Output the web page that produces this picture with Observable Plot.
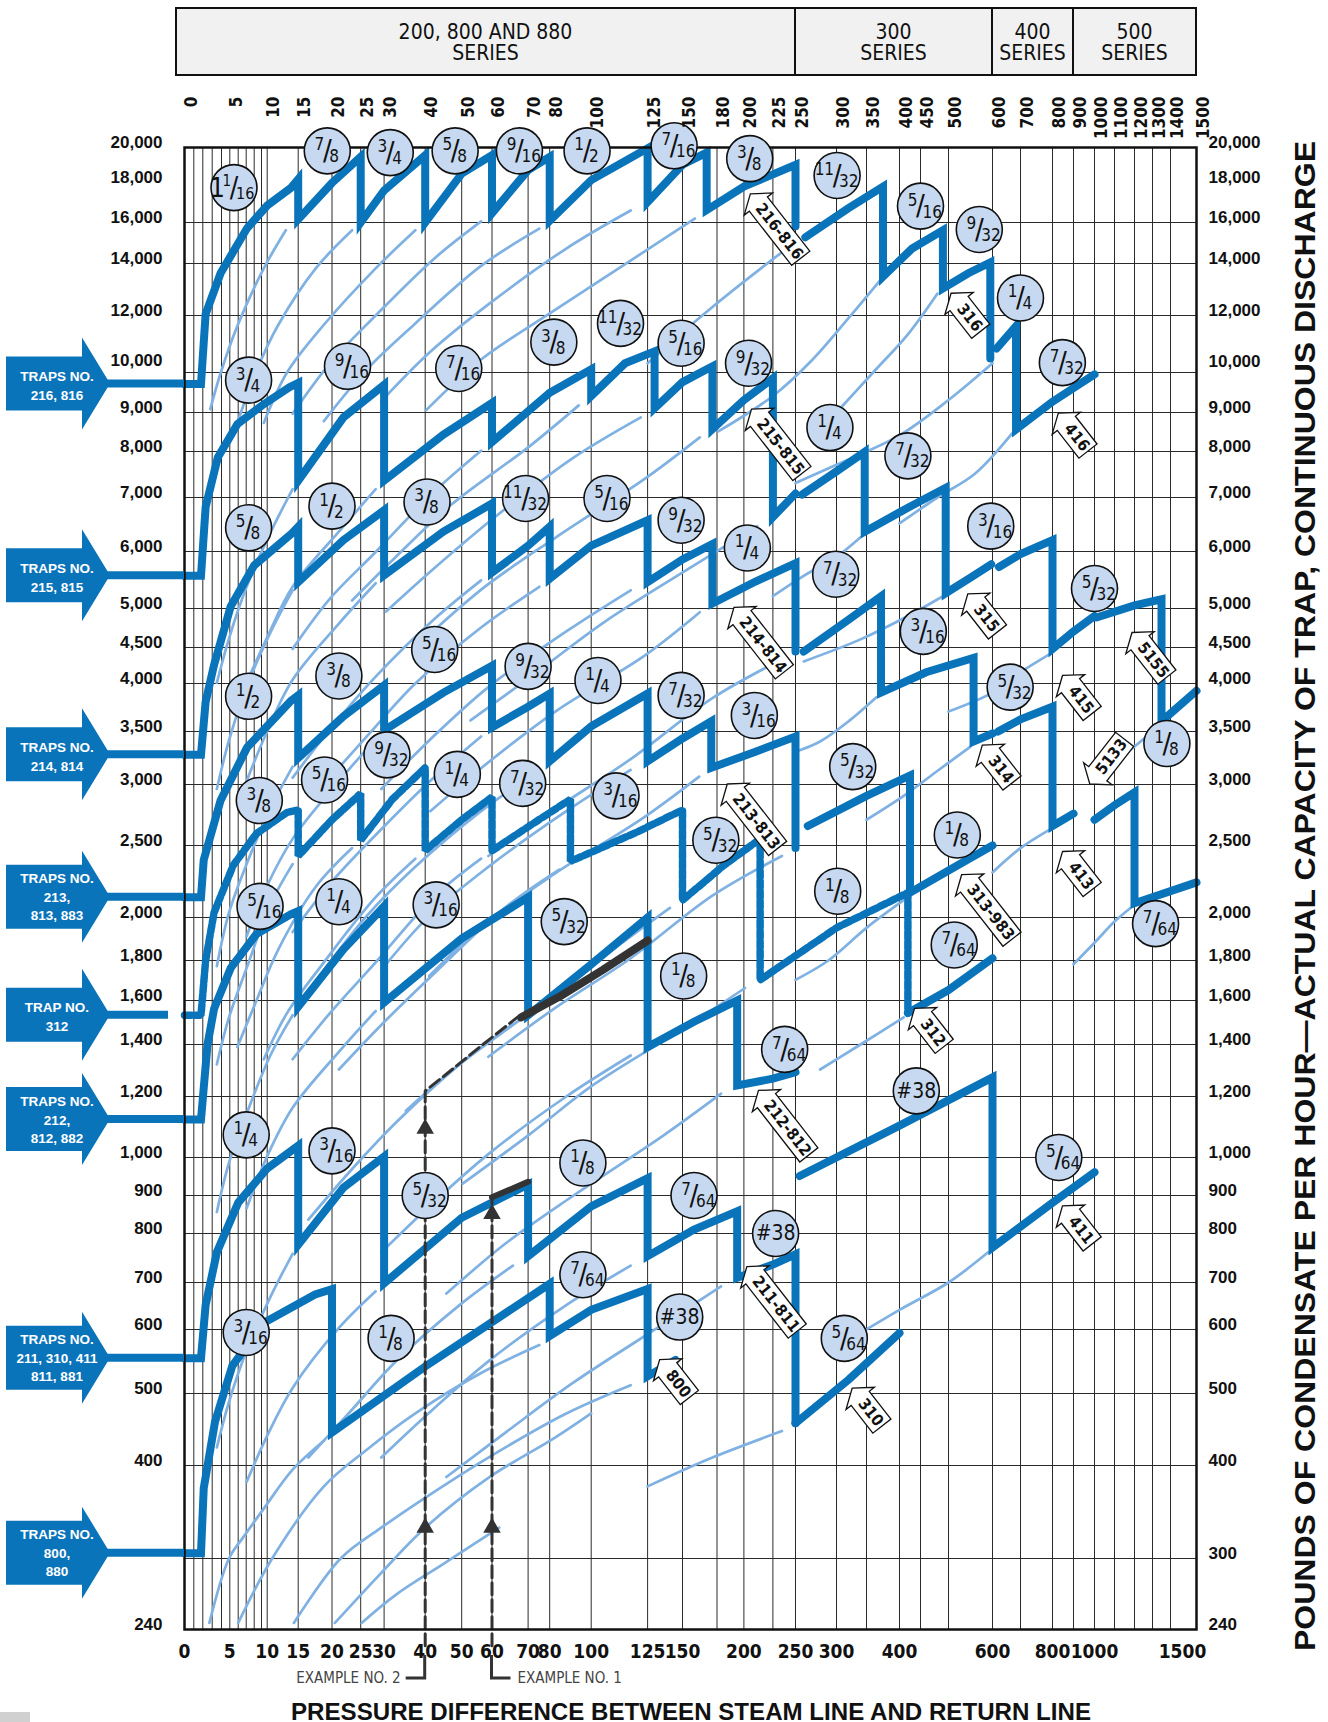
<!DOCTYPE html>
<html>
<head>
<meta charset="utf-8">
<script src="https://cdn.jsdelivr.net/npm/d3@7"></script>
<script src="https://cdn.jsdelivr.net/npm/@observablehq/plot@0.6"></script>
<style>
html,body{margin:0;padding:0;background:#fff;overflow:hidden}
#chart svg{display:block}
</style>
</head>
<body>
<div id="chart"></div>
<script>
// ---------- tick values ----------
const xGrid = [0,1,2,3,4,5,6,7,8,9,10,15,20,25,30,40,50,60,70,80,100,125,150,180,200,225,250,300,350,400,450,500,600,700,800,900,1000,1100,1200,1300,1400,1500];
const xTopLabels = [0,5,10,15,20,25,30,40,50,60,70,80,100,125,150,180,200,225,250,300,350,400,450,500,600,700,800,900,1000,1100,1200,1300,1400,1500];
const xBottomLabels = [0,5,10,15,20,25,30,40,50,60,70,80,100,125,150,200,250,300,400,600,800,1000];
const xBottomLast = [1500];
const yGrid = [240,300,400,500,600,700,800,900,1000,1200,1400,1600,1800,2000,2500,3000,3500,4000,4500,5000,6000,7000,8000,9000,10000,12000,14000,16000,20000];
const yLabelsLeft = [240,400,500,600,700,800,900,1000,1200,1400,1600,1800,2000,2500,3000,3500,4000,4500,5000,6000,7000,8000,9000,12000,14000,16000,18000,20000];
const yLabelsRight = [240,300,400,500,600,700,800,900,1000,1200,1400,1600,1800,2000,2500,3000,3500,4000,4500,5000,6000,7000,8000,9000,12000,14000,16000,18000,20000];
const yLabelRaised = [10000];

// ---------- thick capacity series: [psi, lb/hr] ----------
const s216 = [[0,9700],[1.8,9700],[2.3,12050],[3.9,13600],[7.1,15700],[10,16830],[13.8,17730],[15,18200],[15,16150],[20,18000],[25,19450],[25,16000],[30,17600],[40,19550],[40,16000],[50,18500],[60,19550],[60,16450],[70,18700],[80,19450],[80,16080],[100,18150],[125,19950],[125,17000],[150,19000],[171,19700],[171,16600],[200,17800],[250,19000],[250,15800]];
const s316 = [[262,15250],[320,16700],[375,17800],[375,13470],[430,14700],[490,15600],[490,13000],[545,13600],[595,14050],[595,10460]];
const s416 = [[615,10800],[684,11600],[684,8550],[800,9260],[1000,9950]];
const s215 = [[0,5550],[1.8,5550],[2.3,6810],[3.6,7860],[5.9,8690],[9.4,9200],[13.6,9620],[15,9730],[15,7350],[22,8870],[30,9680],[30,7350],[45,8420],[60,9230],[60,8230],[80,9480],[100,10100],[100,9400],[115,10300],[130,10700],[130,9100],[150,9750],[176,10200],[176,8560],[200,9300],[225,9850],[225,6620],[250,7080]];
const s315 = [[258,7060],[300,7550],[347,7990],[347,6350],[420,6800],[495,7200],[495,5250],[550,5520],[597,5760]];
const s415 = [[623,5710],[700,5950],[800,6200],[800,4480],[900,4700],[1000,4900]];
const s5155 = [[1010,4880],[1200,5050],[1350,5150],[1350,3600],[1500,3920]];
const s214 = [[0,3270],[1.8,3270],[2.3,3800],[3.2,4250],[5.1,5030],[8,5740],[13.8,6300],[15,6440],[15,5440],[22,6200],[30,6750],[30,5560],[45,6350],[60,6880],[60,5610],[70,6100],[80,6440],[80,5500],[100,6100],[125,6560],[125,5440],[150,5850],[176,6130],[176,5080],[210,5450],[250,5780],[250,4440]];
const s314 = [[260,4440],[320,4850],[372,5200],[372,3900],[460,4150],[557,4350],[557,3400],[600,3480]];
const s414 = [[620,3500],[700,3620],[800,3750],[800,2650],[900,2750]];
const s5133 = [[1000,2700],[1100,2820],[1200,2930],[1200,2090],[1500,2230]];
const s213 = [[0,2130],[1.8,2130],[2.1,2390],[3.9,2860],[7.1,3340],[13.8,3810],[15,3870],[15,3240],[22,3650],[30,3980],[30,3510],[45,3900],[60,4240],[60,3540],[70,3750],[80,3890],[80,3210],[100,3550],[125,3890],[125,3210],[150,3430],[175,3600],[175,3150],[210,3300],[250,3450],[250,2480]];
const s313 = [[265,2650],[350,2900],[425,3080],[425,2160],[520,2350],[600,2500]];
const s312 = [[0,1530],[1.8,1530],[2.3,1800],[3.2,2030],[5.4,2350],[8.3,2590],[13.2,2760],[15,2780],[15,2420],[20,2700],[25,2920],[25,2540],[32,2870],[40,3150],[40,2460],[50,2700],[60,2890],[60,2460],[75,2700],[90,2870],[90,2380],[120,2600],[150,2780],[150,2110],[185,2350],[214,2550],[214,1700],[300,1950],[420,2160],[420,1540]];
const s312b = [[420,1540],[500,1650],[600,1810]];
const s212 = [[0,1120],[1.8,1120],[2.5,1400],[3.2,1560],[5.1,1760],[8.3,1920],[13.8,2020],[15,2040],[15,1570],[22,1850],[30,2070],[30,1590],[50,1900],[70,2130],[70,1530],[100,1780],[125,2000],[125,1390],[160,1500],[195,1600],[195,1240],[225,1265],[250,1290]];
const s411 = [[255,950],[400,1100],[600,1270],[600,770],[800,880],[1000,960]];
const s211 = [[0,553],[1.8,553],[2.3,650],[3.5,760],[6,880],[10,970],[15,1036],[15,776],[22,920],[30,1003],[30,698],[50,840],[70,928],[70,752],[100,870],[125,944],[125,752],[160,810],[195,857],[195,709],[225,735],[250,756],[250,456]];
const s310 = [[250,456],[320,520],[400,594]];
const s800 = [[0,305],[1.8,305],[2.1,373],[3.3,458],[5.3,541],[9.5,614],[17.5,673],[20,685],[20,443],[40,540],[80,697],[80,589],[100,640],[125,685],[125,525],[145,550]];
const solidSeries = [s216,s316,s416,s215,s315,s415,s5155,s214,s314,s414,s5133,s213,s313,s312b,s212,s411,s211,s310,s800];
const dottedSeries = [s312];

// ---------- thin orifice curves (continuations below each step) ----------
const thin216 = [
 [[13,15600],[9.4,13800],[5.9,11600],[3.9,9980],[2.8,9080]],
 [[23.5,15600],[17.6,13800],[11.8,11650],[8.2,10000],[5.9,8720]],
 [[37.6,15600],[28.2,13800],[18.8,11650],[13.2,10000],[9.4,8720]],
 [[56.4,16050],[42.3,14200],[28.2,12000],[19.7,10300],[14.1,8970]],
 [[75.2,15680],[56.4,13900],[37.6,11700],[26.3,10100],[18.8,8770]],
 [[117.5,16580],[88,14700],[58.8,12400],[41.1,10650],[29.4,9270]],
 [[160.7,16190],[120.5,14340],[80.4,12090],[56.2,10410],[40.2,9050]],
 [[250,15000],[225,14200],[170,12100],[125,10300]],
 [[370,13300],[320,11900],[270,10400],[225,9400],[181,8500]]
];
const thin215 = [
 [[14.1,7170],[10.6,6350],[7.05,5360],[4.9,4610],[3.5,4010]],
 [[28.2,7170],[21.2,6350],[14.1,5360],[9.9,4610],[7.05,4010]],
 [[56.4,8020],[42.3,7110],[28.2,5990],[19.7,5160],[14.1,4480]],
 [[94,9170],[70.5,8120],[47,6850],[32.9,5900],[23.5,5130]],
 [[122,8870],[91.5,7860],[61,6630],[42.7,5700],[30.5,4960]],
 [[165,8350],[124,7400],[82.7,6240],[57.9,5370],[41.4,4670]],
 [[211.5,6450],[158.6,5720],[105.8,4820],[74,4150],[52.9,3610]]
];
const thin214 = [
 [[14.1,5300],[10.6,4700],[7.05,3960],[4.9,3410],[3.5,2960]],
 [[28.2,5420],[21.2,4800],[14.1,4050],[9.9,3490],[7.05,3030]],
 [[56.4,5470],[42.3,4850],[28.2,4090],[19.7,3520],[14.1,3060]],
 [[75.2,5360],[56.4,4750],[37.6,4000],[26.3,3450],[18.8,3000]],
 [[117.5,5300],[88,4700],[58.8,3960],[41.1,3410],[29.4,2960]],
 [[165,4950],[124,4390],[82.7,3700],[57.9,3180],[41.4,2770]],
 [[235,4330],[176,3840],[117.5,3230],[82,2780],[58.8,2420]]
];
const thin213 = [
 [[14.1,3160],[10.6,2800],[7.05,2360],[4.9,2030],[3.5,1770]],
 [[28.2,3420],[21.2,3030],[14.1,2550],[9.9,2200],[7.05,1910]],
 [[56.4,3450],[42.3,3060],[28.2,2580],[19.7,2220],[14.1,1930]],
 [[75.2,3130],[56.4,2770],[37.6,2340],[26.3,2010],[18.8,1750]],
 [[117.5,3130],[88,2770],[58.8,2340],[41.1,2010],[29.4,1750]],
 [[164.5,3070],[123.4,2720],[82.3,2290],[57.6,1970],[41.1,1720]],
 [[235,2420],[176,2140],[117.5,1810],[82,1560],[58.8,1350]]
];
const thin312 = [
 [[14.1,2360],[10.6,2090],[7.05,1760],[4.9,1520],[3.5,1320]],
 [[23.5,2480],[17.6,2200],[11.8,1850],[8.2,1590],[5.9,1390]],
 [[37.6,2400],[28.2,2130],[18.8,1790],[13.2,1540],[9.4,1340]],
 [[56.4,2400],[42.3,2130],[28.2,1790],[19.7,1540],[14.1,1340]],
 [[84.6,2320],[63.5,2060],[42.3,1730],[29.6,1490],[21.2,1300]],
 [[141,2060],[105.8,1820],[70.5,1540],[49.4,1320],[35.3,1150]],
 [[201,1660],[151,1470],[100.6,1240],[70.4,1070],[50.3,930]]
];
const thin212 = [
 [[14.1,1530],[10.6,1360],[7.05,1140],[4.9,985],[3.5,855]],
 [[28.2,1550],[21.2,1370],[14.1,1160],[9.9,1000],[7.05,865]],
 [[65.8,1490],[49.4,1320],[32.9,1110],[23,960],[16.5,835]],
 [[117.5,1355],[88,1200],[58.8,1010],[41.1,870],[29.4,760]],
 [[183,1210],[137,1070],[91.5,900],[64,780],[45.8,675]]
];
const thin211 = [
 [[14.1,757],[10.6,670],[7.05,565],[4.9,487],[3.5,423]],
 [[28.2,680],[21.2,603],[14.1,508],[9.9,437],[7.05,380]],
 [[65.8,733],[49.4,650],[32.9,548],[23,471],[16.5,410]],
 [[117.5,733],[88,650],[58.8,548],[41.1,471],[29.4,410]],
 [[183,691],[137,612],[91.5,516],[64,444],[45.8,386]],
 [[235,445],[176,410],[125,375]]
];
const thin800 = [
 [[18.8,432],[14.1,395],[9.4,350],[6.6,320],[4.9,300],[2.7,245]],
 [[75.2,574],[56.4,530],[37.6,470],[26.3,420],[18.8,375],[10.8,300],[6,245]],
 [[117.5,512],[88,470],[58.8,410],[41.1,365],[29.4,330],[21.5,300],[14.3,245]],
 [[100,470],[82,435],[58.8,385],[40,330],[29,285],[20.5,245]],
 [[62,330],[45,295],[33,268],[25.2,245]]
];
// thin curves in the 300 / 400 / 500 series columns
const thinHigh = [
 [[480,12800],[420,11300],[360,10000],[300,9000]],
 [[600,10300],[500,9300],[400,8400],[300,7700],[250,7300]],
 [[670,8450],[560,7500],[480,7000],[400,6500]],
 [[340,6250],[300,5900],[260,5550],[225,5200]],
 [[490,5200],[420,4900],[340,4600],[260,4300]],
 [[790,4400],[700,4150],[600,3900],[500,3700]],
 [[365,3850],[320,3600],[280,3400],[250,3300]],
 [[550,3350],[480,3120],[410,2900],[350,2700]],
 [[790,2620],[700,2480],[600,2300]],
 [[415,2120],[350,1950],[290,1800],[250,1700]],
 [[410,1520],[340,1400],[280,1300]],
 [[590,760],[500,700],[400,640],[300,570]],
 [[1330,3550],[1200,3350],[1100,3200],[1000,3050]],
 [[1180,2060],[1100,1980],[1000,1880],[900,1780]]
];
const thinSeries = [...thin216,...thin215,...thin214,...thin213,...thin312,...thin212,...thin211,...thin800,...thinHigh];

// example paths
const ex2Dash = [[40,228],[40,1220],[45.6,1280],[56,1390],[67,1520]];
const ex1Dash = [[60,228],[60,895]];
const ex2Band = [[68,1520],[85,1620],[105,1750],[125,1890]];
const ex1Band = [[60,895],[70,935]];
const exArrows = [[40,1090],[40,330],[60,850],[60,330]];

// orifice labels
const circles = [
 {x:5.5,y:17750,n:"1",d:"16",w:"1"},{x:19.3,y:19800,n:"7",d:"8"},{x:31.5,y:19700,n:"3",d:"4"},{x:48.2,y:19800,n:"5",d:"8"},
 {x:67.6,y:19800,n:"9",d:"16"},{x:98,y:19800,n:"1",d:"2"},{x:144,y:20100,n:"7",d:"16"},{x:205,y:19350,n:"3",d:"8"},
 {x:301,y:18400,n:"11",d:"32"},{x:450,y:16800,n:"5",d:"16"},{x:570,y:15640,n:"9",d:"32"},{x:700,y:12640,n:"1",d:"4"},{x:847,y:10320,n:"7",d:"32"},
 {x:7.3,y:9800,n:"3",d:"4"},{x:22.7,y:10200,n:"9",d:"16"},{x:49.2,y:10130,n:"7",d:"16"},{x:82,y:11020,n:"3",d:"8"},
 {x:113,y:11700,n:"11",d:"32"},{x:149,y:10980,n:"5",d:"16"},{x:204,y:10300,n:"9",d:"32"},{x:292,y:8600,n:"1",d:"4"},
 {x:420,y:7900,n:"7",d:"32"},{x:596,y:6450,n:"3",d:"16"},{x:1000,y:5330,n:"5",d:"32"},
 {x:7.3,y:6420,n:"5",d:"8"},{x:20,y:6830,n:"1",d:"2"},{x:40.5,y:6910,n:"3",d:"8"},{x:69.3,y:6980,n:"11",d:"32"},
 {x:107,y:6980,n:"5",d:"16"},{x:149,y:6560,n:"9",d:"32"},{x:203,y:6060,n:"1",d:"4"},{x:299,y:5580,n:"7",d:"32"},
 {x:455,y:4700,n:"3",d:"16"},{x:663,y:3960,n:"5",d:"32"},{x:1380,y:3380,n:"1",d:"8"},
 {x:7.3,y:3860,n:"1",d:"2"},{x:21.2,y:4100,n:"3",d:"8"},{x:42.6,y:4470,n:"5",d:"16"},{x:70,y:4230,n:"9",d:"32"},
 {x:103,y:4040,n:"1",d:"4"},{x:149,y:3870,n:"7",d:"32"},{x:209,y:3660,n:"3",d:"16"},{x:327,y:3160,n:"5",d:"32"},
 {x:520,y:2580,n:"1",d:"8"},{x:1317,y:1970,n:"7",d:"64"},
 {x:8.7,y:2860,n:"3",d:"8"},{x:18.9,y:3040,n:"5",d:"16"},{x:30.7,y:3270,n:"9",d:"32"},{x:48.8,y:3090,n:"1",d:"4"},
 {x:68.5,y:3010,n:"7",d:"32"},{x:111,y:2900,n:"3",d:"16"},{x:179,y:2540,n:"5",d:"32"},{x:302,y:2170,n:"1",d:"8"},{x:513,y:1870,n:"7",d:"64"},
 {x:8.8,y:2070,n:"5",d:"16"},{x:21.2,y:2100,n:"1",d:"4"},{x:43,y:2080,n:"3",d:"16"},{x:87,y:1980,n:"5",d:"32"},
 {x:151,y:1720,n:"1",d:"8"},{x:238,y:1380,n:"7",d:"64"},{x:440,y:1220,h:"#38"},{x:830,y:1000,n:"5",d:"64"},
 {x:7,y:1070,n:"1",d:"4"},{x:20,y:1020,n:"3",d:"16"},{x:40,y:900,n:"5",d:"32"},{x:96,y:985,n:"1",d:"8"},
 {x:160,y:900,n:"7",d:"64"},{x:228,y:800,h:"#38"},
 {x:7,y:595,n:"3",d:"16"},{x:31.7,y:585,n:"1",d:"8"},{x:96,y:715,n:"7",d:"64"},{x:148,y:625,h:"#38"},{x:313,y:585,n:"5",d:"64"}
];

// callouts (tip position) and left arrows
const callouts = [
 {t:"216-816",x:206,y:17400,a:52},{t:"215-815",x:207,y:9070,a:52},{t:"214-814",x:193,y:5010,a:52},
 {t:"213-813",x:188,y:3000,a:52},{t:"212-812",x:213,y:1220,a:52},{t:"211-811",x:203,y:730,a:52},
 {t:"800",x:134,y:550,a:52},{t:"316",x:507,y:12800,a:52},{t:"315",x:545,y:5230,a:52},{t:"314",x:578,y:3360,a:52},
 {t:"313-983",x:531,y:2280,a:52},{t:"312",x:437,y:1560,a:52},{t:"310",x:327,y:507,a:52},{t:"416",x:830,y:8970,a:52},
 {t:"415",x:850,y:4100,a:52},{t:"413",x:850,y:2450,a:52},{t:"411",x:850,y:870,a:52},{t:"5155",x:1190,y:4680,a:52},
 {t:"5133",x:980,y:3000,a:-52}
];
const trapArrows = [
 {v:9700,lines:["TRAPS NO.","216, 816"]},
 {v:5550,lines:["TRAPS NO.","215, 815"]},
 {v:3270,lines:["TRAPS NO.","214, 814"]},
 {v:2130,lines:["TRAPS NO.","213,","813, 883"]},
 {v:1530,lines:["TRAP NO.","312"]},
 {v:1120,lines:["TRAPS NO.","212,","812, 882"]},
 {v:553,lines:["TRAPS NO.","211, 310, 411","811, 881"]},
 {v:305,lines:["TRAPS NO.","800,","880"]}
];
const seriesHeads = [{from:0,to:250,l1:"200, 800 AND 880",l2:"SERIES"},{from:250,to:600,l1:"300",l2:"SERIES"},{from:600,to:900,l1:"400",l2:"SERIES"},{from:900,to:1500,l1:"500",l2:"SERIES"}];

// ---------- scale geometry (options) ----------
const xRangePx = [184,193.3,202.3,211.7,221,229.3,237.7,245.7,253.7,261,266.7,297.7,331.5,360.2,383.6,424.7,461.2,491.5,527.6,549.2,590.7,647.1,682,716.5,743.4,772.4,795,836,866,899,920,948,992,1020,1052,1073,1094,1114,1134,1152,1170,1196];
const yRangePx = [1629,1558,1465,1393,1329,1282,1233,1195,1157,1096,1044,1000,960,917,845,784,731,683,647,608,551,497,451,412,372,315,263,222,147];

const FN = "'Liberation Sans Narrow','DejaVu Sans Condensed','Arial Narrow',sans-serif";
const FB = "'Liberation Sans',Arial,'DejaVu Sans',sans-serif";
const BLUE = "#0a74bb", LIGHT = "#7fb1e2", CIRC = "#c6d9f0";
const yLab = {fontSize:17, fontWeight:"bold", fontFamily:FB, fill:"#111"};

const marks = [
  Plot.ruleX(xGrid, {stroke:"#2a2a2a", strokeWidth:1}),
  Plot.ruleY(yGrid, {stroke:"#2a2a2a", strokeWidth:1.2}),
];
for (const s of thinSeries) marks.push(Plot.line(s, {stroke:LIGHT, strokeWidth:2.7, curve:"catmull-rom"}));
for (const s of solidSeries) marks.push(Plot.line(s, {stroke:BLUE, strokeWidth:8, strokeLinejoin:"miter", strokeMiterlimit:6}));
for (const s of dottedSeries) marks.push(Plot.line(s, {stroke:BLUE, strokeWidth:7.5, strokeDasharray:"7,3", strokeLinejoin:"miter"}));
marks.push(
  Plot.line(ex2Band, {stroke:"#333", strokeWidth:8}),
  Plot.line(ex1Band, {stroke:"#333", strokeWidth:6}),
  Plot.line(ex2Dash, {stroke:"#333", strokeWidth:3, strokeDasharray:"12,5"}),
  Plot.line(ex1Dash, {stroke:"#333", strokeWidth:3, strokeDasharray:"12,5"}),
  Plot.dot(exArrows, {symbol:"triangle", r:6.5, fill:"#333", stroke:"none"}),
  Plot.frame({stroke:"#111", strokeWidth:2.5}),
  // orifice circles
  Plot.dot(circles, {x:"x", y:"y", r:23, fill:CIRC, stroke:"#111", strokeWidth:1.6}),
  Plot.text(circles.filter(c=>c.n && !c.w), {x:"x", y:"y", text:"n", dx:-3, dy:-6, textAnchor:"end", fontSize:17, fontFamily:FN, fill:"#111"}),
  Plot.text(circles.filter(c=>c.n && !c.w), {x:"x", y:"y", text:()=>"/", fontSize:29, fontFamily:FN, fill:"#111"}),
  Plot.text(circles.filter(c=>c.n && !c.w), {x:"x", y:"y", text:"d", dx:2, dy:6, textAnchor:"start", fontSize:17, fontFamily:FN, fill:"#111"}),
  Plot.text(circles.filter(c=>c.w), {x:"x", y:"y", text:"w", dx:-9, dy:1, textAnchor:"end", fontSize:27, fontFamily:FN, fill:"#111"}),
  Plot.text(circles.filter(c=>c.w), {x:"x", y:"y", text:"n", dx:-3, dy:-6, textAnchor:"end", fontSize:15, fontFamily:FN, fill:"#111"}),
  Plot.text(circles.filter(c=>c.w), {x:"x", y:"y", text:()=>"/", dx:0, fontSize:28, fontFamily:FN, fill:"#111"}),
  Plot.text(circles.filter(c=>c.w), {x:"x", y:"y", text:"d", dx:2, dy:6, textAnchor:"start", fontSize:16, fontFamily:FN, fill:"#111"}),
  Plot.text(circles.filter(c=>c.h), {x:"x", y:"y", text:"h", fontSize:21, fontFamily:FN, fill:"#111"}),
  // axis labels
  Plot.text(yLabelsLeft, {y:d=>d, text:d=>d3.format(",")(d), frameAnchor:"left", dx:-22, dy:-5, textAnchor:"end", ...yLab}),
  Plot.text(yLabelsRight, {y:d=>d, text:d=>d3.format(",")(d), frameAnchor:"right", dx:12, dy:-5, textAnchor:"start", ...yLab}),
  Plot.text(yLabelRaised, {y:d=>d, text:d=>d3.format(",")(d), frameAnchor:"left", dx:-22, dy:-12, textAnchor:"end", ...yLab}),
  Plot.text(yLabelRaised, {y:d=>d, text:d=>d3.format(",")(d), frameAnchor:"right", dx:12, dy:-11, textAnchor:"start", ...yLab}),
  Plot.text(xTopLabels, {x:d=>d, text:d=>String(d), frameAnchor:"top", dy:-51, rotate:-90, textAnchor:"end", fontSize:17, fontWeight:"bold", fontFamily:FN, fill:"#111"}),
  Plot.text(xBottomLabels, {x:d=>d, text:d=>String(d), frameAnchor:"bottom", dy:28, fontSize:19, fontWeight:"bold", fontFamily:FN, fill:"#111"}),
  Plot.text(xBottomLast, {x:d=>d, text:d=>String(d), frameAnchor:"bottom", dy:28, dx:-14, fontSize:19, fontWeight:"bold", fontFamily:FN, fill:"#111"})
);

const plot = Plot.plot({
  width:1328, height:1722,
  marginTop:147, marginBottom:93, marginLeft:184, marginRight:132,
  style:{background:"#fff", fontFamily:FB, overflow:"visible"},
  x:{type:"linear", domain:xGrid, range:xRangePx, axis:null},
  y:{type:"log", domain:yGrid, range:yRangePx, axis:null},
  marks
});
document.getElementById("chart").append(plot);

// ---------- annotations placed through the plot's scales ----------
const X = plot.scale("x"), Y = plot.scale("y");
const svg = d3.select(plot);

// series header boxes
const hg = svg.append("g");
const hx0 = X.apply(0) - 8;
hg.append("rect").attr("x", hx0).attr("y", 8).attr("width", X.apply(1500) - hx0).attr("height", 67).attr("fill", "#f1f1f1").attr("stroke", "#111").attr("stroke-width", 2);
seriesHeads.forEach((h, i) => {
  const a = i === 0 ? hx0 : X.apply(h.from), b = X.apply(h.to);
  if (i > 0) hg.append("line").attr("x1", a).attr("x2", a).attr("y1", 8).attr("y2", 75).attr("stroke", "#111").attr("stroke-width", 2);
  const t = hg.append("text").attr("x", (a + b) / 2).attr("text-anchor", "middle").attr("font-family", FN).attr("font-size", 21).attr("fill", "#111");
  t.append("tspan").attr("x", (a + b) / 2).attr("y", 39).text(h.l1);
  t.append("tspan").attr("x", (a + b) / 2).attr("y", 60).text(h.l2);
});

// trap arrows on the left
const ag = svg.append("g");
trapArrows.forEach(a => {
  const ty = Y.apply(a.v);
  const hr = a.lines.length === 3 ? 32 : 27, hh = 46;
  const pts = [[6, ty - hr], [82, ty - hr], [82, ty - hh], [110, ty], [82, ty + hh], [82, ty + hr], [6, ty + hr]];
  ag.append("polygon").attr("points", pts.map(p => p.join(",")).join(" ")).attr("fill", BLUE);
  ag.append("line").attr("x1", 105).attr("x2", a.v === 1530 ? 168 : X.apply(0)).attr("y1", ty).attr("y2", ty).attr("stroke", BLUE).attr("stroke-width", 8);
  const offs = a.lines.length === 3 ? [-18, 1, 19] : [-7, 12];
  a.lines.forEach((l, i) => {
    ag.append("text").attr("x", 57).attr("y", ty + offs[i]).attr("text-anchor", "middle").attr("dominant-baseline", "central")
      .attr("font-family", FB).attr("font-weight", "bold").attr("font-size", 13.5).attr("fill", "#fff").text(l);
  });
});

// arrow-shaped callouts
const cg = svg.append("g");
callouts.forEach(c => {
  const px = X.apply(c.x), py = Y.apply(c.y);
  const L = c.t.length * 8.4 + 10, h = 11.5, hw = 18, al = 13;
  const pts = [[0, 0], [al, -hw], [al, -h], [al + L, -h], [al + L, h], [al, h], [al, hw]];
  const g = cg.append("g").attr("transform", `translate(${px},${py}) rotate(${c.a})`);
  g.append("polygon").attr("points", pts.map(p => p.join(",")).join(" ")).attr("fill", "#fff").attr("stroke", "#111").attr("stroke-width", 1.3);
  g.append("text").attr("x", al + L / 2).attr("y", 0).attr("text-anchor", "middle").attr("dominant-baseline", "central")
    .attr("font-family", FN).attr("font-weight", "bold").attr("font-size", 16).attr("fill", "#111").text(c.t);
});

// example labels
const eg = svg.append("g").attr("fill", "none").attr("stroke", "#333").attr("stroke-width", 3);
const x40 = X.apply(40), x60 = X.apply(60);
eg.append("polyline").attr("points", `${x40 - 19},1678 ${x40},1678 ${x40},1655`);
eg.append("polyline").attr("points", `${x60},1655 ${x60},1678 ${x60 + 19},1678`);
svg.append("text").attr("x", x40 - 24).attr("y", 1678).attr("text-anchor", "end").attr("dominant-baseline", "central").attr("font-family", FN).attr("font-size", 15).attr("fill", "#444").text("EXAMPLE NO. 2");
svg.append("text").attr("x", x60 + 26).attr("y", 1678).attr("text-anchor", "start").attr("dominant-baseline", "central").attr("font-family", FN).attr("font-size", 15).attr("fill", "#444").text("EXAMPLE NO. 1");

// axis titles
svg.append("text").attr("x", 691).attr("y", 1712).attr("text-anchor", "middle").attr("dominant-baseline", "central")
  .attr("font-family", FB).attr("font-weight", "bold").attr("font-size", 23).attr("textLength", 800).attr("lengthAdjust", "spacingAndGlyphs").attr("fill", "#111")
  .text("PRESSURE DIFFERENCE BETWEEN STEAM LINE AND RETURN LINE");
svg.append("text").attr("transform", "translate(1304,896) rotate(-90)").attr("text-anchor", "middle").attr("dominant-baseline", "central")
  .attr("font-family", FB).attr("font-weight", "bold").attr("font-size", 30).attr("textLength", 1510).attr("lengthAdjust", "spacingAndGlyphs").attr("fill", "#111")
  .text("POUNDS OF CONDENSATE PER HOUR\u2014ACTUAL CAPACITY OF TRAP, CONTINUOUS DISCHARGE");
svg.append("rect").attr("x", 0).attr("y", 1712).attr("width", 30).attr("height", 10).attr("fill", "#d0d0d0");
</script>
</body>
</html>
